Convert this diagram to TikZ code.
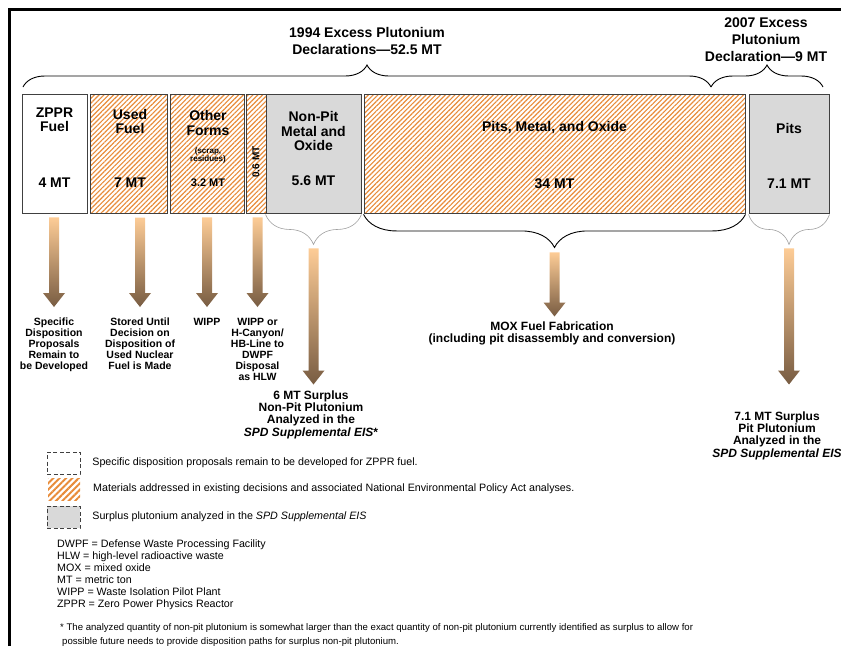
\documentclass[tikz,border=0pt]{standalone}
\usepackage{fontspec}
\setmainfont{Liberation Sans}
\usetikzlibrary{calc, positioning, patterns.meta, decorations.pathreplacing}
\definecolor{hatchc}{RGB}{232,140,58}
\definecolor{surpc}{RGB}{217,217,217}
\definecolor{cellline}{RGB}{64,64,64}
\definecolor{arrtop}{RGB}{253,204,150}
\definecolor{arrbot}{RGB}{120,92,66}
\definecolor{softbr}{RGB}{160,160,160}
\tikzset{
  cell/.style={draw=cellline, line width=0.9pt, inner sep=0pt, minimum height=119},
  hatch/.style={cell, pattern={Lines[angle=45, distance=3.4pt, line width=1.15pt]}, pattern color=hatchc},
  surp/.style={cell, fill=surpc},
  blab/.style={font=\fontsize{14}{14.2}\selectfont\bfseries, align=center, inner sep=0pt},
  dlab/.style={font=\fontsize{10.5}{11}\selectfont\bfseries, align=center, inner sep=0pt, anchor=north},
  slab/.style={font=\fontsize{12}{12.2}\selectfont\bfseries, align=center, inner sep=0pt, anchor=north},
  ttl/.style={font=\fontsize{14}{17}\selectfont\bfseries, align=center, inner sep=0pt},
  brc/.style={decorate, decoration={brace, amplitude=#1}, line width=0.9pt},
  lbrc/.style={decorate, decoration={brace, mirror, amplitude=#1}},
  arr/.style={top color=arrtop, bottom color=arrbot},
  legbox/.style={minimum width=33, minimum height=22, inner sep=0pt},
  legtxt/.style={font=\fontsize{10.7}{12}\selectfont, inner sep=0pt}
}
% shaded block arrow, straight down from #1 to the level of #2
\newcommand{\fatarrow}[2]{%
  \shade[arr] let \p1=(#1), \p2=(#2) in
    (\x1-5pt,\y1) -- (\x1-5pt,\y2+14pt) -- (\x1-11pt,\y2+14pt) -- (\x1,\y2)
    -- (\x1+11pt,\y2+14pt) -- (\x1+5pt,\y2+14pt) -- (\x1+5pt,\y1) -- cycle;}

\begin{document}
\begin{tikzpicture}[x=1pt, y=-1pt]
	\useasboundingbox (0,0) rectangle (841,646);
	\draw[line width=2.6pt] (9.5,646) -- (9.5,9.5) -- (841,9.5);
	% declarations
	\node[ttl] (t94) at (367,40.5) {1994 Excess Plutonium\\Declarations—52.5 MT};
	\node[ttl] (t07) at (766,40) {2007 Excess\\Plutonium\\Declaration—9 MT};
	\draw[brc=22] (23,87) -- (711,87);
	\draw[brc=22] (711,87) -- (823,87);
	% material blocks
	\node[cell, fill=white, minimum width=65] (zppr) at (54.5,153.5) {};
	\node[hatch, minimum width=77] (used) at (128.5,153.5) {};
	\node[hatch, minimum width=74] (other) at (207,153.5) {};
	\node[hatch, minimum width=20] (small) at (256,153.5) {};
	\node[surp, minimum width=95] (nonpit) at (313.5,153.5) {};
	\node[hatch, minimum width=381] (pmo) at (554.5,153.5) {};
	\node[surp, minimum width=80] (pits) at (789,153.5) {};
	\node[blab] (zppr-n) at (54.5,119.5) {ZPPR\\Fuel};
	\node[blab] (zppr-q) at (54.5,183) {4 MT};
	\node[blab] (used-n) at (130,121.5) {Used\\Fuel};
	\node[blab] (used-q) at (130,183) {7 MT};
	\node[blab] (other-n) at (208,123) {Other\\Forms};
	\node[font=\fontsize{8}{7.5}\selectfont\bfseries, align=center, inner sep=0pt] (other-s) at (208,155.5) {(scrap,\\residues)};
	\node[font=\fontsize{11}{11}\selectfont\bfseries, inner sep=0pt] (other-q) at (208,183) {3.2 MT};
	\node[font=\fontsize{10}{10}\selectfont\bfseries, inner sep=0pt, rotate=90] (small-q) at (256,162) {0.6 MT};
	\node[blab] (nonpit-n) at (313.5,131) {Non-Pit\\Metal and\\Oxide};
	\node[blab] (nonpit-q) at (313.5,181) {5.6 MT};
	\node[blab] (pmo-n) at (554.5,128) {Pits, Metal, and Oxide};
	\node[blab] (pmo-q) at (554.5,184) {34 MT};
	\node[blab] (pits-n) at (789,128) {Pits};
	\node[blab] (pits-q) at (789,184) {7.1 MT};
	% braces below the blocks
	\draw[lbrc=30, draw=softbr, line width=0.6pt] ([yshift=-1pt]nonpit.south west) -- ([yshift=-1pt]nonpit.south east);
	\draw[lbrc=33, line width=0.9pt] ([yshift=-1pt]pmo.south west) -- ([yshift=-1pt]pmo.south east);
	\draw[lbrc=30, draw=softbr, line width=0.6pt] ([yshift=-1pt]pits.south west) -- ([yshift=-1pt]pits.south east);
	\coordinate (npb) at ($(nonpit.south)+(0,30)$);
	\coordinate (pmb) at ($(pmo.south)+(0,33)$);
	\coordinate (ptb) at ($(pits.south)+(0,30)$);
	% dispositions
	\node[dlab] (l1) at (54,318) {Specific\\Disposition\\Proposals\\Remain to\\be Developed};
	\node[dlab] (l2) at (140,318) {Stored Until\\Decision on\\Disposition of\\Used Nuclear\\Fuel is Made};
	\node[dlab] (l3) at (207,318) {WIPP};
	\node[dlab] (l4) at (257.5,318) {WIPP or\\H-Canyon/\\HB-Line to\\DWPF\\Disposal\\as HLW};
	\node[slab] (l5) at (311,390.5) {6 MT Surplus\\Non-Pit Plutonium\\Analyzed in the\\\textit{SPD Supplemental EIS}*};
	\node[slab] (l6) at (552,321.5) {MOX Fuel Fabrication\\(including pit disassembly and conversion)};
	\node[slab] (l7) at (777,411.5) {7.1 MT Surplus\\Pit Plutonium\\Analyzed in the\\\textit{SPD Supplemental EIS}};
	\foreach \l/\b in {l1/zppr, l2/used, l3/other, l4/small}
		\fatarrow{$(\l.north |- \b.south)+(0,4)$}{$(\l.north)+(0,-11)$};
	\fatarrow{$(npb)+(0,5)$}{$(npb |- l5.north)+(0,-6)$};
	\fatarrow{$(pmb)+(0,6)$}{$(pmb |- l6.north)+(0,-5)$};
	\fatarrow{$(ptb)+(0,5)$}{$(ptb |- l7.north)+(0,-27)$};
	% key
	\node[legbox, draw=cellline, dash pattern=on 4pt off 2.5pt, fill=white] (k1) at (63.5,463) {};
	\node[legbox, minimum width=32, pattern={Lines[angle=45, distance=4.5pt, line width=2pt]}, pattern color=hatchc] (k2) at (64,489) {};
	\node[legbox, draw=cellline, dash pattern=on 4pt off 2.5pt, fill=surpc] (k3) at (63.5,517) {};
	\node[legtxt, right=12pt of k1] (k1t) {Specific disposition proposals remain to be developed for ZPPR fuel.};
	\node[legtxt, right=12pt of k2] (k2t) {Materials addressed in existing decisions and associated National Environmental Policy Act analyses.};
	\node[legtxt, right=12pt of k3] (k3t) {Surplus plutonium analyzed in the \textit{SPD Supplemental EIS}};
	\node[legtxt, align=left, anchor=north west] (abbr) at (57,540) {DWPF = Defense Waste Processing Facility\\HLW = high-level radioactive waste\\MOX = mixed oxide\\MT = metric ton\\WIPP = Waste Isolation Pilot Plant\\ZPPR = Zero Power Physics Reactor};
	\node[font=\fontsize{9.6}{14}\selectfont, inner sep=0pt, align=left, anchor=north west] (fn) at (60,623) {* The analyzed quantity of non-pit plutonium is somewhat larger than the exact quantity of non-pit plutonium currently identified as surplus to allow for\\\hspace{2pt}possible future needs to provide disposition paths for surplus non-pit plutonium.};
\end{tikzpicture}
\end{document}
